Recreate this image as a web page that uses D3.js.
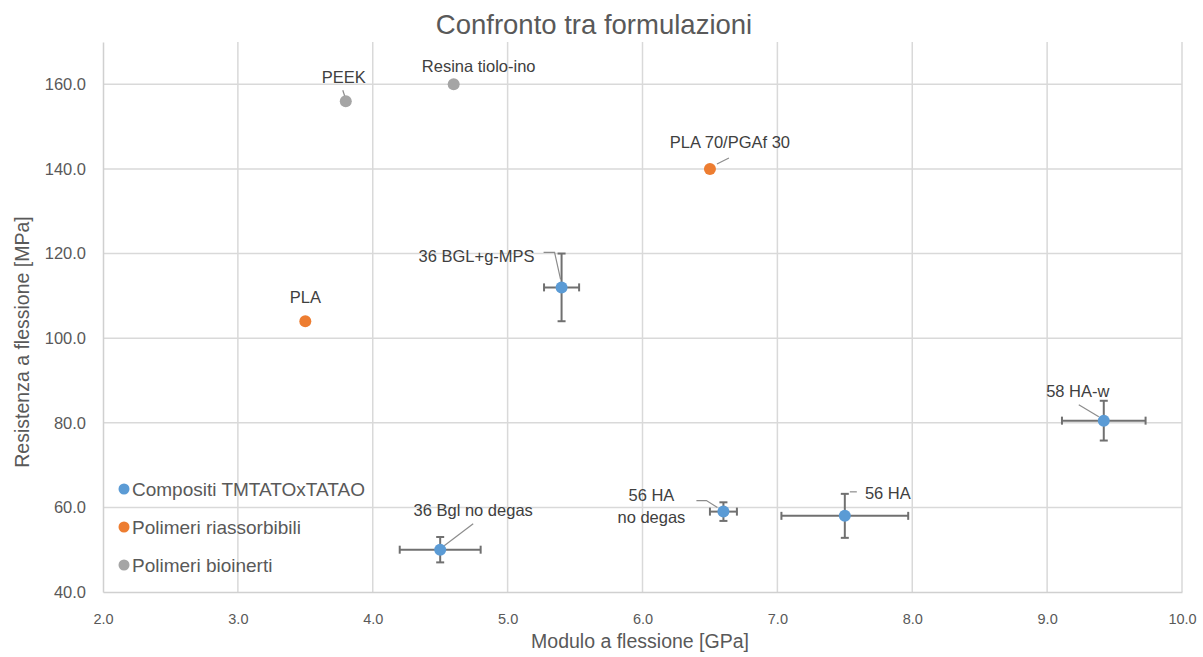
<!DOCTYPE html>
<html><head><meta charset="utf-8">
<script src="https://cdn.jsdelivr.net/npm/d3@7"></script>
<style>
body{margin:0;background:#fff;}
svg{display:block;font-family:"Liberation Sans",Arial,sans-serif;}
</style></head>
<body><svg id="c" width="1203" height="657"></svg>
<script>
// ---- data ----
const names = ["36 BGL+g-MPS","36 Bgl no degas","56 HA no degas","56 HA","58 HA-w","PLA","PLA 70/PGAf 30","PEEK","Resina tiolo-ino"];
const groups = ["Compositi TMTATOxTATAO","Compositi TMTATOxTATAO","Compositi TMTATOxTATAO","Compositi TMTATOxTATAO","Compositi TMTATOxTATAO","Polimeri riassorbibili","Polimeri riassorbibili","Polimeri bioinerti","Polimeri bioinerti"];
const modulus = [5.4, 4.5, 6.6, 7.5, 9.42, 3.5, 6.5, 3.8, 4.6];
const strength = [112, 50, 59, 58, 80.5, 104, 140, 156, 160];
const modulusErr = [0.13, 0.3, 0.1, 0.47, 0.31, 0, 0, 0, 0];
const strengthErr = [8, 3, 2.2, 5.2, 4.7, 0, 0, 0, 0];
const seriesNames = ["Compositi TMTATOxTATAO","Polimeri riassorbibili","Polimeri bioinerti"];
const xTicks = [2,3,4,5,6,7,8,9,10];
const yTicks = [40,60,80,100,120,140,160];

// ---- layout / style ----
const colors = {"Compositi TMTATOxTATAO":"#5b9bd5","Polimeri riassorbibili":"#ed7d31","Polimeri bioinerti":"#a5a5a5"};
const labelLines = {"56 HA no degas":["56 HA","no degas"]};
// text offset (dx,dy of centre) and leader polyline offsets, px relative to point
const labelLayout = {
 "36 BGL+g-MPS":{dx:-85,dy:-31,leader:[[-18,-35],[-7,-35],[-1,-8]]},
 "36 Bgl no degas":{dx:33,dy:-40,leader:[[33,-26],[4,-4]]},
 "56 HA no degas":{dx:-72,dy:-17,leader:[[-27,-11],[-17,-11],[-6,-4]]},
 "56 HA":{dx:43,dy:-23,leader:[[5,-24],[12,-24]]},
 "58 HA-w":{dx:-26,dy:-30,leader:[[-25,-16],[-5,-4]]},
 "PLA":{dx:0,dy:-24,leader:null},
 "PLA 70/PGAf 30":{dx:20,dy:-27,leader:[[7,-5],[19,-11]]},
 "PEEK":{dx:-2,dy:-24,leader:[[-3,-11],[-1,-5]]},
 "Resina tiolo-ino":{dx:25,dy:-18,leader:null}
};
const M = {left:103, right:1182, top:42, bottom:592};

const svg = d3.select("#c");
const x = d3.scaleLinear().domain([2,10]).range([M.left, M.right]);
const y = d3.scaleLinear().domain([40,170]).range([M.bottom, M.top]);

// gridlines
svg.append("g").selectAll("line.v").data(xTicks.slice(1)).join("line")
  .attr("x1",d=>x(d)).attr("x2",d=>x(d)).attr("y1",M.top).attr("y2",M.bottom)
  .attr("stroke","#d9d9d9").attr("stroke-width",1.5);
svg.append("g").selectAll("line.h").data(yTicks.slice(1)).join("line")
  .attr("x1",M.left).attr("x2",M.right).attr("y1",d=>y(d)).attr("y2",d=>y(d))
  .attr("stroke","#d9d9d9").attr("stroke-width",1.5);

// axes
const xAxis = svg.append("g").attr("transform",`translate(0,${M.bottom})`)
  .call(d3.axisBottom(x).tickValues(xTicks).tickFormat(d3.format(".1f")).tickSize(0).tickPadding(22));
const yAxis = svg.append("g").attr("transform",`translate(${M.left},0)`)
  .call(d3.axisLeft(y).tickValues(yTicks).tickFormat(d3.format(".1f")).tickSize(0).tickPadding(17));
[xAxis,yAxis].forEach(a=>{
  a.select(".domain").attr("stroke","#d0d0d0").attr("stroke-width",1.5);
  a.selectAll("text").attr("fill","#595959").attr("font-family","'Liberation Sans',Arial,sans-serif");
});
xAxis.selectAll("text").attr("font-size",14.5);
yAxis.selectAll("text").attr("font-size",16.5);

// error bars
const data = names.map((n,i)=>({name:n,group:groups[i],x:modulus[i],y:strength[i],ex:modulusErr[i],ey:strengthErr[i]}));
const eb = svg.append("g").attr("stroke","#707070").attr("stroke-width",2);
data.filter(d=>d.ex>0||d.ey>0).forEach(d=>{
  const cx=x(d.x), cy=y(d.y), cap=4;
  const xl=x(d.x-d.ex), xr=x(d.x+d.ex), yt=y(d.y+d.ey), yb=y(d.y-d.ey);
  eb.append("line").attr("x1",xl).attr("x2",xr).attr("y1",cy).attr("y2",cy);
  eb.append("line").attr("x1",xl).attr("x2",xl).attr("y1",cy-cap).attr("y2",cy+cap);
  eb.append("line").attr("x1",xr).attr("x2",xr).attr("y1",cy-cap).attr("y2",cy+cap);
  eb.append("line").attr("x1",cx).attr("x2",cx).attr("y1",yt).attr("y2",yb);
  eb.append("line").attr("x1",cx-cap).attr("x2",cx+cap).attr("y1",yt).attr("y2",yt);
  eb.append("line").attr("x1",cx-cap).attr("x2",cx+cap).attr("y1",yb).attr("y2",yb);
});

// leader lines
const line = d3.line();
svg.append("g").selectAll("path").data(data.filter(d=>labelLayout[d.name].leader)).join("path")
  .attr("d",d=>line(labelLayout[d.name].leader.map(p=>[x(d.x)+p[0],y(d.y)+p[1]])))
  .attr("fill","none").attr("stroke","#8c8c8c").attr("stroke-width",1.2);

// points
svg.append("g").selectAll("circle").data(data).join("circle")
  .attr("cx",d=>x(d.x)).attr("cy",d=>y(d.y)).attr("r",6)
  .attr("fill",d=>colors[d.group]);

// data labels
const lg = svg.append("g").attr("font-size",16.5).attr("fill","#404040").attr("text-anchor","middle");
data.forEach(d=>{
  const L = labelLayout[d.name];
  const lines = labelLines[d.name] || [d.name];
  lines.forEach((t,k)=>{
    lg.append("text").attr("x",x(d.x)+L.dx).attr("y",y(d.y)+L.dy+k*22)
      .attr("dominant-baseline","central").text(t);
  });
});

// legend
const leg = svg.append("g");
seriesNames.forEach((s,i)=>{
  const gy = 489 + i*38;
  leg.append("circle").attr("cx",124).attr("cy",gy).attr("r",5.5).attr("fill",colors[s]);
  leg.append("text").attr("x",132).attr("y",gy).attr("dominant-baseline","central")
    .attr("font-size",19).attr("fill","#595959").text(s);
});

// title & axis titles
svg.append("text").attr("x",594).attr("y",24).attr("text-anchor","middle").attr("dominant-baseline","central")
  .attr("font-size",27.5).attr("fill","#595959").text("Confronto tra formulazioni");
svg.append("text").attr("x",640).attr("y",641).attr("text-anchor","middle").attr("dominant-baseline","central")
  .attr("font-size",19.5).attr("fill","#595959").text("Modulo a flessione [GPa]");
svg.append("text").attr("transform","translate(22,342) rotate(-90)").attr("text-anchor","middle").attr("dominant-baseline","central")
  .attr("font-size",19.5).attr("fill","#595959").text("Resistenza a flessione [MPa]");
</script></body></html>
